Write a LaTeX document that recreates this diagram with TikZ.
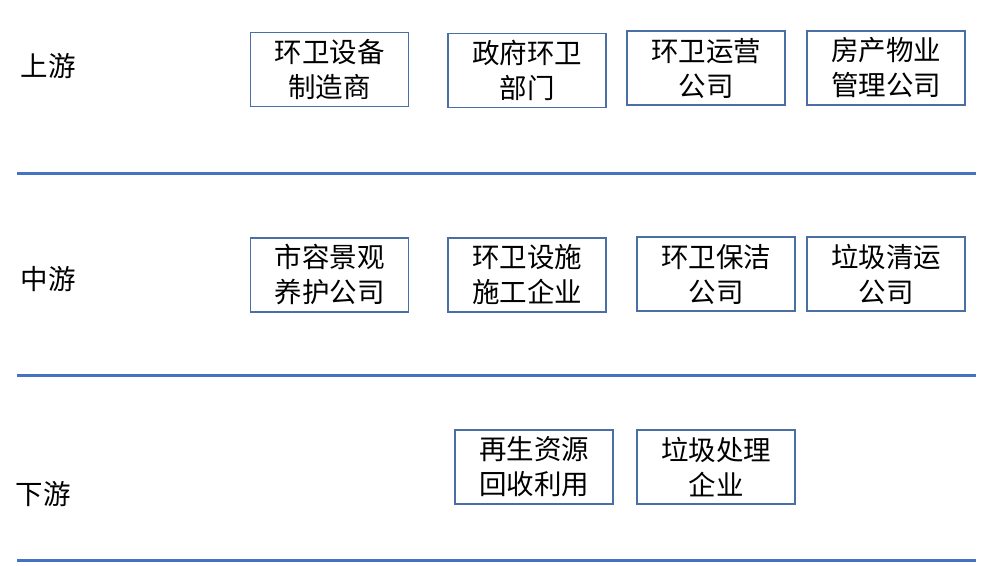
\documentclass[tikz,border=0pt]{standalone}
\usepackage{fontspec}
\setmainfont{Noto Sans CJK SC}
\usetikzlibrary{positioning}
\definecolor{rulebl}{HTML}{4472C4}
\definecolor{boxbl}{HTML}{4A6FA5}

\begin{document}
\begin{tikzpicture}[x=1pt,y=-1pt,
  firm/.style={draw=boxbl,line width=1.5pt,minimum width=158pt,minimum height=74pt,
    align=center,inner sep=0pt,font=\fontsize{27.5}{35}\selectfont},
  tier/.style={font=\fontsize{27.5}{30}\selectfont,inner sep=0pt},
  sepline/.style={rulebl,line width=3pt}]
 \useasboundingbox (0,0) rectangle (990,565);
 % tiers
 \node[tier] (up) at (48,66) {上游};
 \node[tier] (mid) at (48,279) {中游};
 \node[tier] (down) at (43,494) {下游};
 % upstream
 \node[firm] (maker) at (329.5,69.5) {环卫设备\\制造商};
 \node[firm] (gov) at (527,70.5) {政府环卫\\部门};
 \node[firm] (oper) at (706,68) {环卫运营\\公司};
 \node[firm] (prop) at (886,68) {房产物业\\管理公司};
 % midstream
 \node[firm] (land) at (329.5,275) {市容景观\\养护公司};
 \node[firm] (build) at (527,275) {环卫设施\\施工企业};
 \node[firm] (clean) at (716,274) {环卫保洁\\公司};
 \node[firm] (haul) at (886,274) {垃圾清运\\公司};
 % downstream
 \node[firm] (recy) at (534,467) {再生资源\\回收利用};
 \node[firm] (treat) at (716,467) {垃圾处理\\企业};
 % separators
 \foreach \n/\y in {1/173,2/375,3/560}{
   \coordinate (l\n) at (17,\y);
   \coordinate (r\n) at (976,\y);
   \draw[sepline] (l\n) -- (r\n);
 }
\end{tikzpicture}
\end{document}
